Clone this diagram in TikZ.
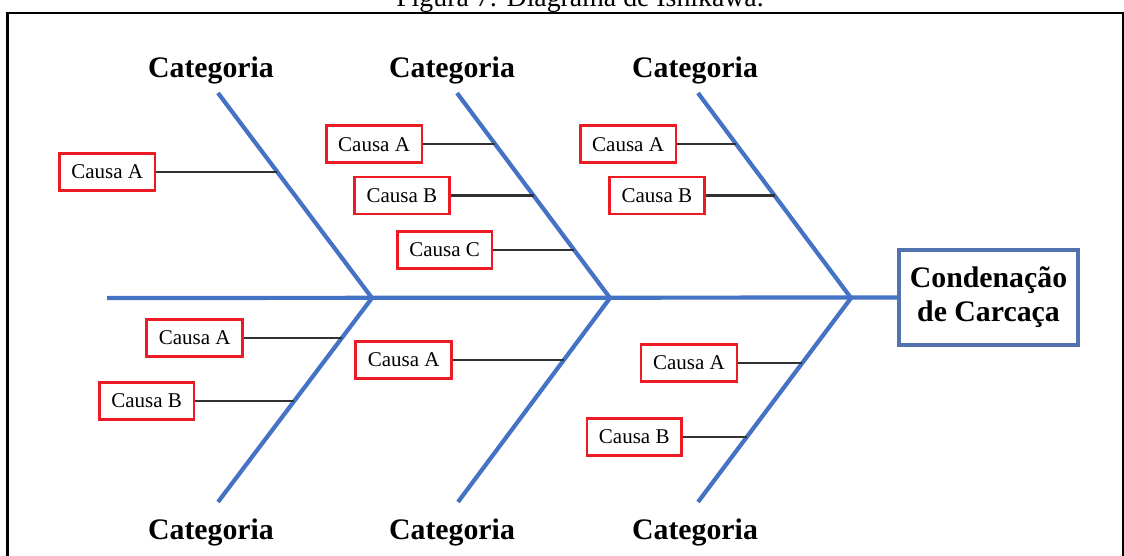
\documentclass[tikz,border=0pt]{standalone}
\usepackage{fontspec}
\setmainfont{Liberation Serif}
\usetikzlibrary{positioning,calc}
\definecolor{azulEspinha}{RGB}{68,114,196}
\definecolor{azulCaixa}{RGB}{82,115,176}
\definecolor{vermelhoCausa}{RGB}{237,28,36}
\definecolor{cinzaRamo}{RGB}{50,50,50}
\tikzset{
    espinha/.style={draw=azulEspinha, line width=4.2pt, line join=round},
    ramo/.style={draw=cinzaRamo, line width=2.2pt},
    causa/.style={draw=vermelhoCausa, line width=2.6pt, inner xsep=12pt, minimum height=37pt, font=\fontsize{21}{24}\selectfont},
    categoria/.style={font=\fontsize{29.8}{34}\selectfont\bfseries, anchor=base},
    efeito/.style={draw=azulCaixa, line width=4pt, minimum width=179pt, minimum height=95pt, align=center, font=\fontsize{29.8}{34}\selectfont\bfseries},
    moldura/.style={draw=black, line width=2.2pt}
}

\begin{document}
\begin{tikzpicture}[x=1pt,y=-1pt]
    \useasboundingbox (0,0) rectangle (1124,556);
    \node[font=\fontsize{27.8}{30}\selectfont, anchor=base] (titulo) at (580,7) {Figura 7: Diagrama de Ishikawa.};
    \draw[moldura] (7.5,570) -- (7.5,12.8) -- (1123,12.8) -- (1123,570);

    \node[efeito] (efeito) at (988.5,297.5) {Condenação\\de Carcaça};
    \coordinate (inicio) at (107,298);
    \draw[espinha] (inicio) -- (efeito.west);

    \coordinate (t1) at (218,93);
    \coordinate (j1) at (372,298);
    \coordinate (b1) at (218,502);
    \coordinate (t2) at (457,93);
    \coordinate (j2) at (610,298);
    \coordinate (b2) at (458,502);
    \coordinate (t3) at (698,93);
    \coordinate (j3) at (851,298);
    \coordinate (b3) at (698,502);
    \foreach \i in {1,2,3}
        \draw[espinha] (t\i) -- (j\i) -- (b\i);

    \coordinate (pt1a) at ($(t1)!0.385!(j1)$);
    \coordinate (pt2a) at ($(t2)!0.25!(j2)$);
    \coordinate (pt2b) at ($(t2)!0.50!(j2)$);
    \coordinate (pt2c) at ($(t2)!0.766!(j2)$);
    \coordinate (pt3a) at ($(t3)!0.25!(j3)$);
    \coordinate (pt3b) at ($(t3)!0.50!(j3)$);
    \coordinate (pb1a) at ($(j1)!0.196!(b1)$);
    \coordinate (pb1b) at ($(j1)!0.505!(b1)$);
    \coordinate (pb2a) at ($(j2)!0.304!(b2)$);
    \coordinate (pb3a) at ($(j3)!0.319!(b3)$);
    \coordinate (pb3b) at ($(j3)!0.681!(b3)$);

    \foreach \n/\d/\l in {t1a/121pt/A, t2a/72pt/A, t2b/83pt/B, t2c/81pt/C, t3a/59pt/A, t3b/69pt/B,
                          b1a/98pt/A, b1b/99pt/B, b2a/111pt/A, b3a/64pt/A, b3b/64pt/B}{
        \node[causa, left=\d of p\n] (c\n) {Causa \l};
        \draw[ramo] (c\n) -- (p\n);
    }

    \foreach \i/\x in {1/211,2/452,3/695}{
        \node[categoria] (catCima\i) at (\x,78) {Categoria};
        \node[categoria] (catBaixo\i) at (\x,539) {Categoria};
    }
\end{tikzpicture}
\end{document}
